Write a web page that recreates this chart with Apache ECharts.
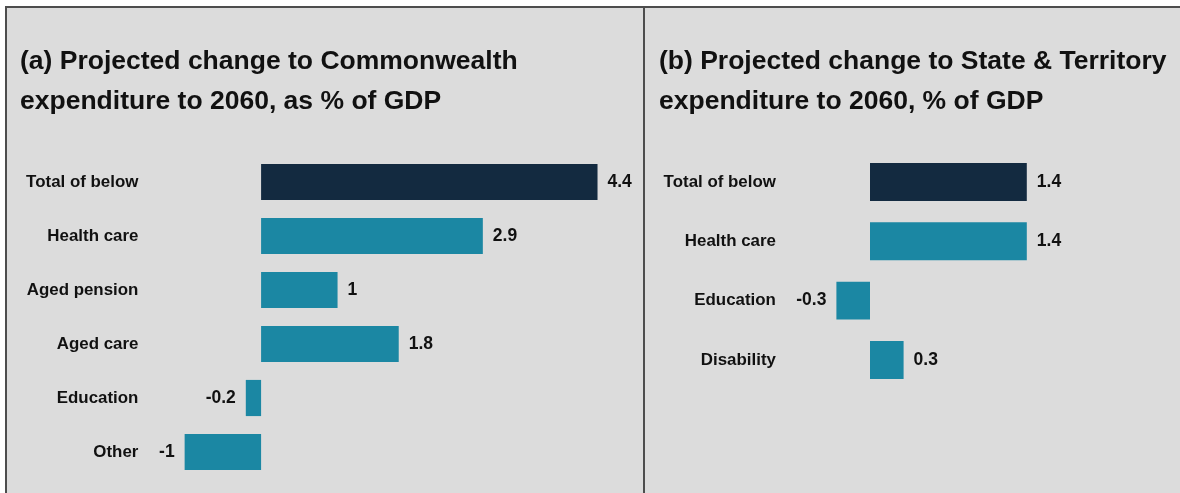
<!DOCTYPE html>
<html>
<head>
<meta charset="utf-8">
<script src="https://cdn.jsdelivr.net/npm/echarts@6/dist/echarts.min.js"></script>
<style>
html,body{margin:0;padding:0;background:#dcdcdc;overflow:hidden;}
#chart{width:1180px;height:493px;}
</style>
</head>
<body>
<div id="chart"></div>
<script>
// Panel (a): Commonwealth
const catsA = ['Total of below', 'Health care', 'Aged pension', 'Aged care', 'Education', 'Other'];
const valsA = [4.4, 2.9, 1, 1.8, -0.2, -1];
// Panel (b): State & Territory
const catsB = ['Total of below', 'Health care', 'Education', 'Disability'];
const valsB = [1.4, 1.4, -0.3, 0.3];

const titleA = '(a) Projected change to Commonwealth\nexpenditure to 2060, as % of GDP';
const titleB = '(b) Projected change to State & Territory\nexpenditure to 2060, % of GDP';

const NAVY = '#132a40';
const TEAL = '#1b87a3';
const FONT = '"Liberation Sans", Arial, sans-serif';

function items(vals) {
  return vals.map((v, i) => ({
    value: v,
    itemStyle: { color: i === 0 ? NAVY : TEAL },
    label: { position: v < 0 ? 'left' : 'right' }
  }));
}

const chart = echarts.init(document.getElementById('chart'));
const catAxis = (idx, cats, margin) => ({
  type: 'category', gridIndex: idx, data: cats, inverse: true,
  axisLine: { show: false }, axisTick: { show: false }, splitLine: { show: false },
  axisLabel: { color: '#111', fontFamily: FONT, fontWeight: 'bold', fontSize: 16.9, margin: margin }
});
const valAxis = (idx, min, max) => ({
  type: 'value', gridIndex: idx, min: min, max: max,
  axisLine: { show: false }, axisTick: { show: false }, splitLine: { show: false },
  axisLabel: { show: false }
});
const barSeries = (idx, vals, gap) => ({
  type: 'bar', xAxisIndex: idx, yAxisIndex: idx, data: items(vals),
  barCategoryGap: gap,
  label: { show: true, distance: 10, color: '#111', fontFamily: FONT, fontWeight: 'bold', fontSize: 17.5 }
});

chart.setOption({
  backgroundColor: '#dcdcdc',
  animation: false,
  graphic: [
    { type: 'rect', z: -10, shape: { x: 0, y: 0, width: 1180, height: 6 }, style: { fill: '#ffffff' } },
    { type: 'rect', z: -10, shape: { x: 0, y: 0, width: 5, height: 493 }, style: { fill: '#ffffff' } },
    { type: 'line', z: -5, shape: { x1: 5, y1: 7, x2: 1180, y2: 7 }, style: { stroke: '#4d4d4d', lineWidth: 2 } },
    { type: 'line', z: -5, shape: { x1: 6, y1: 6, x2: 6, y2: 493 }, style: { stroke: '#4d4d4d', lineWidth: 2 } },
    { type: 'line', z: -5, shape: { x1: 644, y1: 6, x2: 644, y2: 493 }, style: { stroke: '#4d4d4d', lineWidth: 2 } }
  ],
  title: [
    { text: titleA, left: 20, top: 42, padding: 0, textStyle: { fontFamily: FONT, fontWeight: 'bold', fontSize: 26.5, lineHeight: 40, color: '#111' } },
    { text: titleB, left: 659, top: 42, padding: 0, textStyle: { fontFamily: FONT, fontWeight: 'bold', fontSize: 26.5, lineHeight: 40, color: '#111' } }
  ],
  grid: [
    { left: 146.4, right: 536.6, top: 155, bottom: 14 },
    { left: 780.4, right: 30, top: 152.3, bottom: 103.4 }
  ],
  xAxis: [ valAxis(0, -1.5, 5), valAxis(1, -0.8, 2.5) ],
  yAxis: [ catAxis(0, catsA, 8), catAxis(1, catsB, 4.5) ],
  series: [ barSeries(0, valsA, '33%'), barSeries(1, valsB, '36%') ]
});
</script>
</body>
</html>
